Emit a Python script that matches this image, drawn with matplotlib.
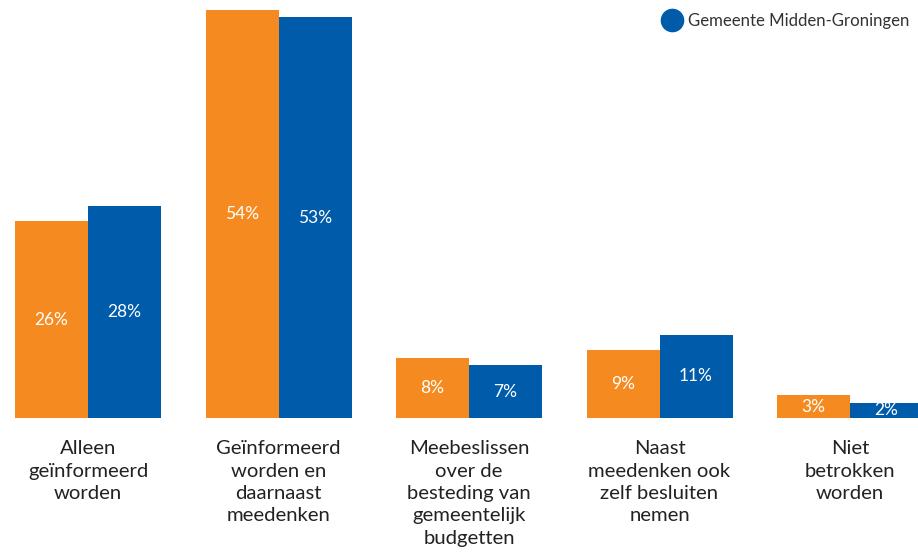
import matplotlib
matplotlib.use("Agg")
import matplotlib.pyplot as plt
from matplotlib.lines import Line2D
import numpy as np

categories = [
    "Alleen\ngeïnformeerd\nworden",
    "Geïnformeerd\nworden en\ndaarnaast\nmeedenken",
    "Meebeslissen\nover de\nbesteding van\ngemeentelijk\nbudgetten",
    "Naast\nmeedenken ook\nzelf besluiten\nnemen",
    "Niet\nbetrokken\nworden",
]
orange_values = [26, 54, 8, 9, 3]
blue_values = [28, 53, 7, 11, 2]
blue_name = "Gemeente Midden-Groningen"

ORANGE = "#F58B20"
BLUE = "#005CAB"

plt.rcParams["font.family"] = ["Lato", "DejaVu Sans"]

W, H = 918, 552
fig = plt.figure(figsize=(W / 100, H / 100), dpi=100)
ax = fig.add_axes([0, 134 / H, 1, 418 / H])

x = np.arange(len(categories))
spacing_px = 190.5
first_center_px = 88.0
bw = 73 / spacing_px
ax.bar(x - bw / 2, orange_values, width=bw, color=ORANGE, linewidth=0)
ax.bar(x + bw / 2, blue_values, width=bw, color=BLUE, linewidth=0)

for xi, v in zip(x, orange_values):
    ax.text(xi - bw / 2, v / 2, f"{v}%", ha="center", va="center",
            color="white", fontsize=12.5)
for xi, v in zip(x, blue_values):
    ax.text(xi + bw / 2, v / 2, f"{v}%", ha="center", va="center",
            color="white", fontsize=12.5)

ax.set_xlim(-first_center_px / spacing_px, (W - first_center_px) / spacing_px)
ax.set_ylim(0, 418 / 7.56)
ax.set_xticks(x)
ax.set_xticklabels(categories, fontsize=14.6, color="#222222", linespacing=1.38,
                   va="top")
ax.tick_params(axis="x", length=0, pad=16)
ax.set_yticks([])
for s in ax.spines.values():
    s.set_visible(False)

handle = Line2D([], [], linestyle="none", marker="o", markersize=16,
                markerfacecolor=BLUE, markeredgecolor=BLUE)
fig.legend([handle], [blue_name], loc="center left",
           bbox_to_anchor=(664 / W, 1 - 21 / H), frameon=False,
           fontsize=12.1, labelcolor="#333333", handlelength=1.0,
           handletextpad=0.45, borderpad=0, borderaxespad=0)

fig.savefig("out.png", dpi=100)
